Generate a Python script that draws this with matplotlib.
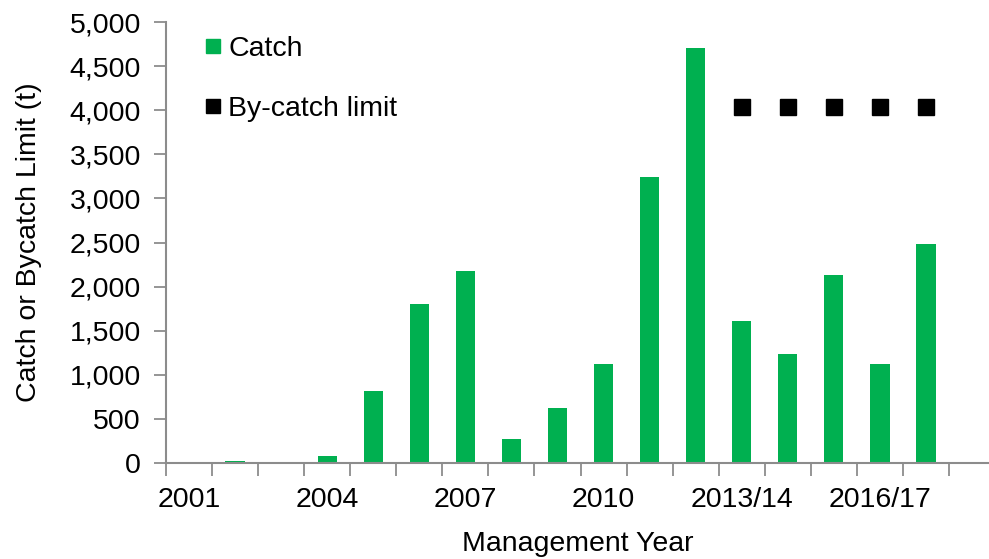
import matplotlib
matplotlib.use('Agg')
import matplotlib.pyplot as plt
from matplotlib.lines import Line2D
from matplotlib.ticker import FuncFormatter
import numpy as np

plt.rcParams['font.family'] = ['Liberation Sans', 'DejaVu Sans']

years = ['2001', '2002', '2003', '2004', '2005', '2006', '2007', '2008', '2009',
         '2010', '2011', '2012', '2013/14', '2014/15', '2015/16', '2016/17', '2017/18']
catch = [0, 20, 0, 83, 816, 1803, 2177, 272, 624, 1122, 3243, 4705,
         1610, 1236, 2132, 1122, 2483]
limit_years = ['2013/14', '2014/15', '2015/16', '2016/17', '2017/18']
bycatch_limit = [4040, 4040, 4040, 4040, 4040]

green = '#00B050'
axis_grey = '#8C8C8C'
fs = 20.5

fig = plt.figure(figsize=(9.89, 5.59), dpi=100)
ax = fig.add_axes([166 / 989, 1 - 463 / 559, 1 - 166 / 989, (463 - 22) / 559])

x = np.arange(len(years))
ax.bar(x, catch, width=0.42, color=green, zorder=2)
lx = [years.index(y) for y in limit_years]
ax.plot(lx, bycatch_limit, linestyle='none', marker='s', markersize=11,
        color='black', zorder=3)

ax.set_xlim(-0.5, (989 - 167) / 46 - 0.5)
ax.set_ylim(0, 5000)
ax.set_yticks(np.arange(0, 5001, 500))
ax.yaxis.set_major_formatter(FuncFormatter(lambda v, p: f'{int(v):,}'))

ax.set_xticks(x[::3])
ax.set_xticklabels(years[::3])
ax.set_xticks(np.arange(-0.5, len(years)), minor=True)
ax.tick_params(axis='x', which='major', length=0, pad=17, labelsize=fs)
ax.tick_params(axis='x', which='minor', length=9, color=axis_grey, width=1.3)
ax.tick_params(axis='y', length=9, color=axis_grey, width=1.3, pad=9, labelsize=fs)

for s in ['top', 'right']:
    ax.spines[s].set_visible(False)
for s in ['left', 'bottom']:
    ax.spines[s].set_color(axis_grey)
    ax.spines[s].set_linewidth(1.5)

ax.set_xlabel('Management Year', fontsize=fs, labelpad=13)
ax.set_ylabel('Catch or Bycatch Limit (t)', fontsize=fs, labelpad=20)

handles = [Line2D([], [], linestyle='none', marker='s', markersize=10, color=green),
           Line2D([], [], linestyle='none', marker='s', markersize=10, color='black')]
ax.legend(handles, ['Catch', 'By-catch limit'], loc='upper left',
          bbox_to_anchor=(204 / 989, 1 - 36 / 559), bbox_transform=fig.transFigure,
          frameon=False, fontsize=fs, handlelength=0.6, handletextpad=0.25,
          labelspacing=1.2, borderaxespad=0, borderpad=0)

plt.savefig('out.png', dpi=100)
plt.close()
